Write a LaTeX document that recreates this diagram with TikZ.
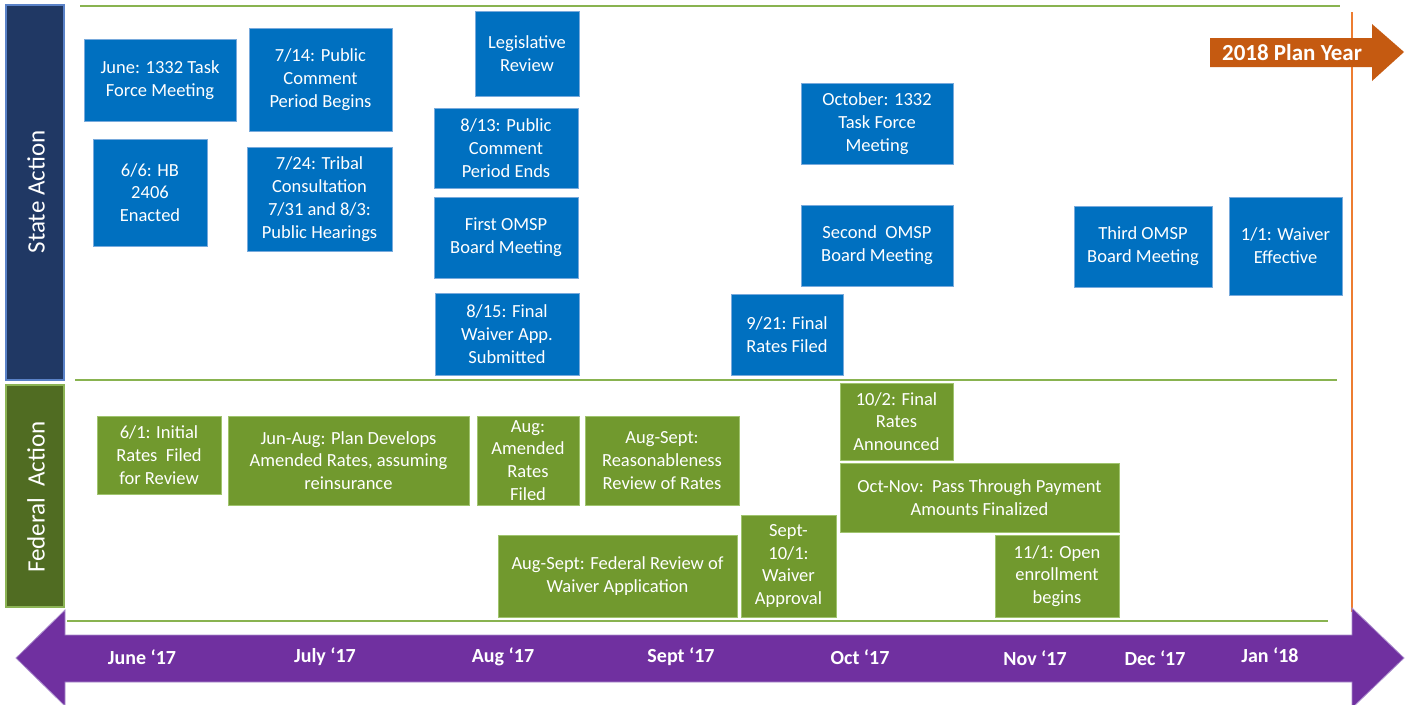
\documentclass[tikz,border=0pt]{standalone}
\usepackage{fontspec}
\setmainfont{Carlito}
\definecolor{boxblue}{RGB}{0,112,192}
\definecolor{boxblueedge}{RGB}{120,170,220}
\definecolor{boxgreen}{RGB}{113,153,46}
\definecolor{boxgreenedge}{RGB}{160,196,110}
\definecolor{navy}{RGB}{32,56,100}
\definecolor{navyedge}{RGB}{90,130,200}
\definecolor{fedgreen}{RGB}{80,108,34}
\definecolor{fededge}{RGB}{140,180,85}
\definecolor{rule}{RGB}{137,179,80}
\definecolor{orangeline}{RGB}{237,125,49}
\definecolor{planorange}{RGB}{197,90,17}
\definecolor{tlpurple}{RGB}{112,48,160}
\definecolor{tlpurpleedge}{RGB}{170,140,205}
\tikzset{
  evt/.style={rectangle, inner sep=1pt, align=center, text=white,
    font=\fontsize{18.5}{22.8}\selectfont, line width=0.7pt},
  bluebox/.style={evt, fill=boxblue, draw=boxblueedge},
  greenbox/.style={evt, fill=boxgreen, draw=boxgreenedge},
  monthlbl/.style={text=white, font=\fontsize{20}{22}\selectfont\bfseries},
  sidelbl/.style={text=white, rotate=90, font=\fontsize{25}{28}\selectfont},
  rulerline/.style={draw=rule, line width=1.4pt}
}
\begin{document}
\begin{tikzpicture}[x=1pt,y=-1pt]
\useasboundingbox (0,0) rectangle (1412,704);
\fill[white] (0,0) rectangle (1412,704);

% side bars
\draw[fill=navy, draw=navyedge, line width=1.5pt] (6,5) rectangle (64,380);
\node[sidelbl] (state) at (36,192) {State Action};
\draw[fill=fedgreen, draw=fededge, line width=1.5pt] (6,385) rectangle (64,607);
\node[sidelbl] (federal) at (36,497) {Federal\ \ Action};

% horizontal rules
\coordinate (r1a) at (80,6);   \coordinate (r1b) at (1340,6);
\coordinate (r2a) at (75,380); \coordinate (r2b) at (1337,380);
\coordinate (r3a) at (67,621); \coordinate (r3b) at (1328,621);
\draw[rulerline] (r1a) -- (r1b);
\draw[rulerline] (r2a) -- (r2b);
\draw[rulerline] (r3a) -- (r3b);

% orange plan-year line
\coordinate (o1) at (1352,12); \coordinate (o2) at (1352,612);
\draw[orangeline, line width=1.2pt] (o1) -- (o2);

% plan year arrow
\fill[planorange] (1210,38) -- (1372,38) -- (1372,24) -- (1404,52) -- (1372,81) -- (1372,67) -- (1210,67) -- cycle;
\node[text=white, font=\fontsize{23}{25}\selectfont\bfseries] (plan) at (1292,52.5) {2018 Plan Year};

% timeline arrow
\draw[fill=tlpurple, draw=tlpurpleedge, line width=0.8pt]
  (16,658) -- (65,610) -- (65,635) -- (1352,635) -- (1352,608) -- (1404,658)
  -- (1352,708) -- (1352,682) -- (65,682) -- (65,706) -- cycle;
\node[monthlbl] (m1) at (142,657) {June ‘17};
\node[monthlbl] (m2) at (325,657) {July ‘17};
\node[monthlbl] (m3) at (503,657) {Aug ‘17};
\node[monthlbl] (m4) at (681,657) {Sept ‘17};
\node[monthlbl] (m5) at (860,657) {Oct ‘17};
\node[monthlbl] (m6) at (1035,658) {Nov ‘17};
\node[monthlbl] (m7) at (1155,658) {Dec ‘17};
\node[monthlbl] (m8) at (1270,655) {Jan ‘18};

% state action boxes
\node[bluebox, minimum width=152, minimum height=82] (b1) at (160,80) {June: 1332 Task\\Force Meeting};
\node[bluebox, minimum width=114, minimum height=107] (b2) at (150,192.5) {6/6: HB\\2406\\Enacted};
\node[bluebox, minimum width=143, minimum height=103] (b3) at (320.5,79.5) {7/14: Public\\Comment\\Period Begins};
\node[bluebox, minimum width=145, minimum height=104] (b4) at (319.5,199) {7/24: Tribal\\Consultation\\7/31 and 8/3:\\Public Hearings};
\node[bluebox, minimum width=104, minimum height=85] (b5) at (527,53.5) {Legislative\\Review};
\node[bluebox, minimum width=144, minimum height=80] (b6) at (506,148) {8/13: Public\\Comment\\Period Ends};
\node[bluebox, minimum width=144, minimum height=81] (b7) at (506,237.5) {First OMSP\\Board Meeting};
\node[bluebox, minimum width=144, minimum height=82] (b8) at (507,334) {8/15: Final\\Waiver App.\\Submitted};
\node[bluebox, minimum width=152, minimum height=81] (b9) at (877,123.5) {October: 1332\\Task Force\\Meeting};
\node[bluebox, minimum width=152, minimum height=81] (b10) at (877,245.5) {Second\ \ OMSP\\Board Meeting};
\node[bluebox, minimum width=112, minimum height=81] (b11) at (787,334.5) {9/21: Final\\Rates Filed};
\node[bluebox, minimum width=138, minimum height=81] (b12) at (1143,246.5) {Third OMSP\\Board Meeting};
\node[bluebox, minimum width=113, minimum height=98] (b13) at (1285.5,246) {1/1: Waiver\\Effective};

% federal action boxes
\node[greenbox, minimum width=124, minimum height=78] (g1) at (159,455) {6/1: Initial\\Rates\ \ Filed\\for Review};
\node[greenbox, minimum width=241, minimum height=89] (g2) at (348.5,460.5) {Jun-Aug: Plan Develops\\Amended Rates, assuming\\reinsurance};
\node[greenbox, minimum width=102, minimum height=89] (g3) at (528,460.5) {Aug:\\Amended\\Rates\\Filed};
\node[greenbox, minimum width=154, minimum height=89] (g4) at (662,460.5) {Aug-Sept:\\Reasonableness\\Review of Rates};
\node[greenbox, minimum width=239, minimum height=82] (g5) at (617.5,576) {Aug-Sept: Federal Review of\\Waiver Application};
\node[greenbox, minimum width=95, minimum height=102] (g6) at (788.5,566) {Sept-\\10/1:\\Waiver\\Approval};
\node[greenbox, minimum width=113, minimum height=77] (g7) at (896.5,421.5) {10/2: Final\\Rates\\Announced};
\node[greenbox, minimum width=279, minimum height=69] (g8) at (979.5,497.5) {Oct-Nov:\ \ Pass Through Payment\\Amounts\ Finalized};
\node[greenbox, minimum width=124, minimum height=82] (g9) at (1057,576) {11/1: Open\\enrollment\\begins};
\end{tikzpicture}
\end{document}
